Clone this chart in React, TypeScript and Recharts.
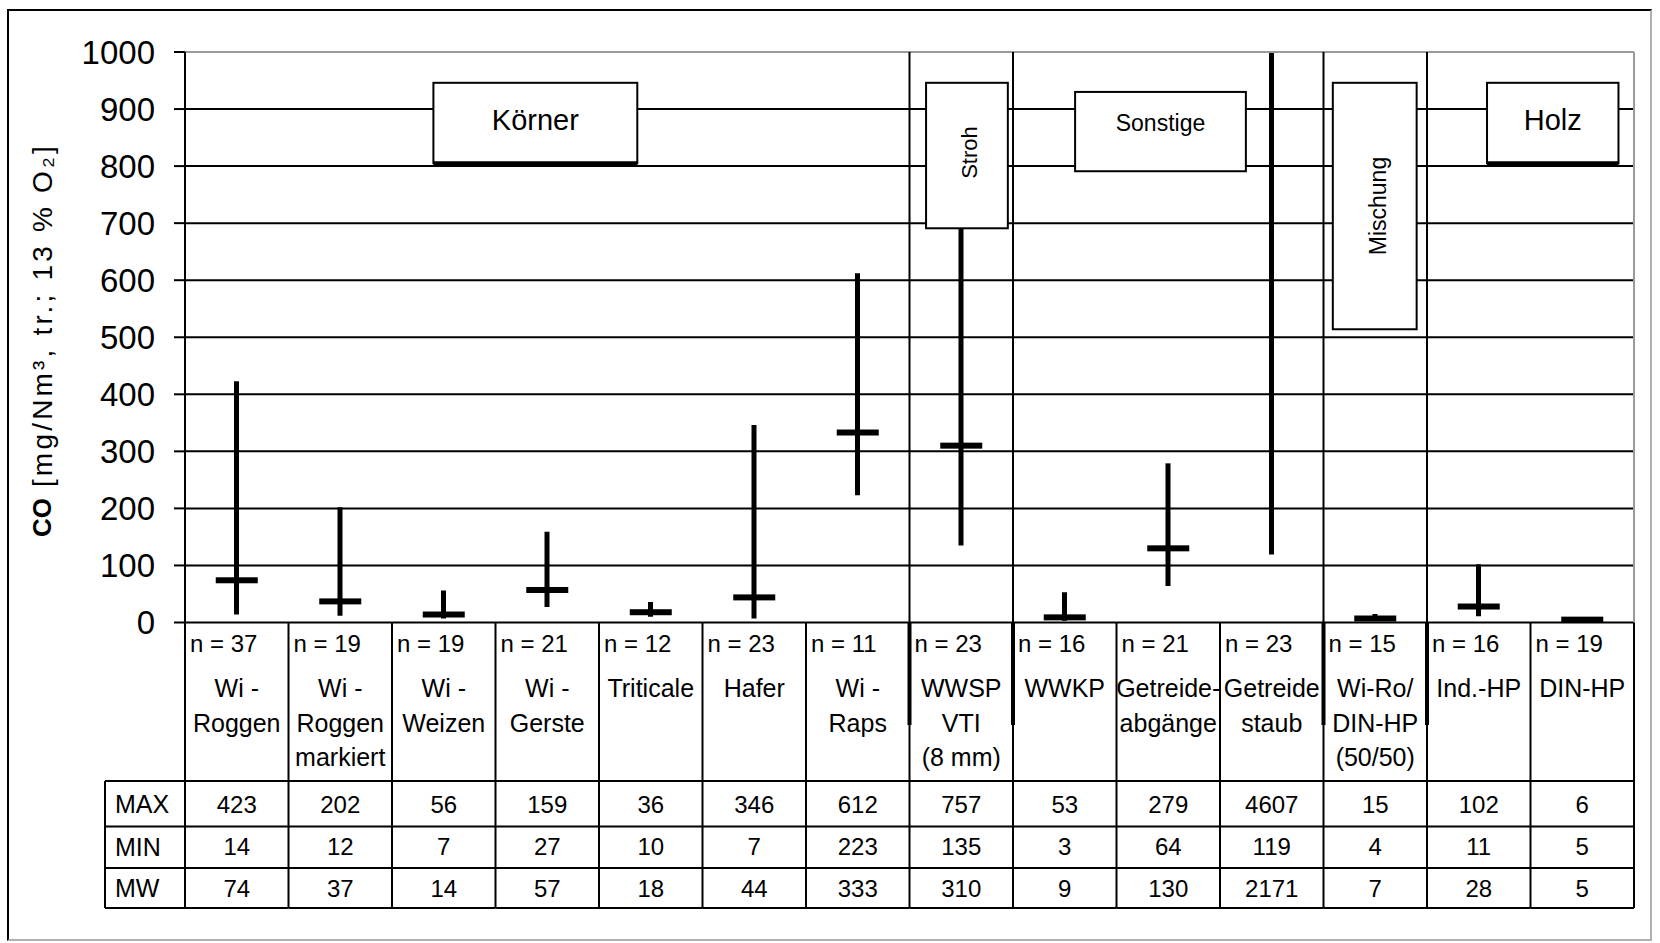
import {
  ComposedChart, Bar, Scatter, XAxis, YAxis, CartesianGrid, ReferenceArea, ReferenceLine
} from "recharts"

// column labels (line breaks as in the table)
const categories = [
  ["Wi -", "Roggen"],
  ["Wi -", "Roggen", "markiert"],
  ["Wi -", "Weizen"],
  ["Wi -", "Gerste"],
  ["Triticale"],
  ["Hafer"],
  ["Wi -", "Raps"],
  ["WWSP", "VTI", "(8 mm)"],
  ["WWKP"],
  ["Getreide-", "abgänge"],
  ["Getreide", "staub"],
  ["Wi-Ro/", "DIN-HP", "(50/50)"],
  ["Ind.-HP"],
  ["DIN-HP"],
]
const sampleSizes = [37, 19, 19, 21, 12, 23, 11, 23, 16, 21, 23, 15, 16, 19]
const maxValues = [423, 202, 56, 159, 36, 346, 612, 757, 53, 279, 4607, 15, 102, 6]
const minValues = [14, 12, 7, 27, 10, 7, 223, 135, 3, 64, 119, 4, 11, 5]
const meanValues = [74, 37, 14, 57, 18, 44, 333, 310, 9, 130, 2171, 7, 28, 5]
const rowLabels = ["MAX", "MIN", "MW"]
const yTicks = [0, 100, 200, 300, 400, 500, 600, 700, 800, 900, 1000]
const groupNames = ["Körner", "Stroh", "Sonstige", "Mischung", "Holz"]
const groupStarts = [7, 8, 11, 12]

const FONT = "'Liberation Sans', Arial, sans-serif"
const W = 1660
const H = 943
const PLOT_L = 185
const PLOT_R = 1634
const PLOT_T = 52
const PLOT_B = 622.5
const COL_W = (PLOT_R - PLOT_L) / categories.length
const HEAD_B = 781
const ROW1_B = 826.5
const ROW2_B = 868
const TABLE_B = 908
const LABEL_L = 105

const rows = categories.map((c, i) => ({
  name: c.join(" "),
  range: [minValues[i], maxValues[i]],
  mw: meanValues[i],
}))

// annotation boxes: x in column units (fractional), y in data values
const boxes = [
  { x1: 2.4, x2: 4.37, y1: 805, y2: 946, vertical: false, size: 29, dy: -3, thick: true },
  { x1: 7.16, x2: 7.95, y1: 691, y2: 946, vertical: true, size: 22, dy: -3, thick: false },
  { x1: 8.6, x2: 10.25, y1: 791, y2: 930, vertical: false, size: 23, dy: -9, thick: false },
  { x1: 11.09, x2: 11.9, y1: 514, y2: 946, vertical: true, size: 23, dy: 0, thick: false },
  { x1: 12.58, x2: 13.85, y1: 805, y2: 946, vertical: false, size: 29, dy: -3, thick: true },
]

function TableTick(props: any) {
  const { x, payload } = props
  const i: number = props.index ?? payload.index
  const left = x - COL_W / 2
  const right = x + COL_W / 2
  const isGroupStart = groupStarts.includes(i)
  const vals = [maxValues[i], minValues[i], meanValues[i]]
  const rowY = [804, 846.5, 888]
  return (
    <g fontFamily={FONT} fontSize={25}>
      <line x1={left} x2={left} y1={isGroupStart ? PLOT_T : PLOT_B} y2={TABLE_B} stroke="#000" strokeWidth={2} />
      {isGroupStart && (
        <line x1={left} x2={left} y1={PLOT_B} y2={725} stroke="#000" strokeWidth={4} />
      )}
      {i === categories.length - 1 && (
        <line x1={right} x2={right} y1={PLOT_B} y2={TABLE_B} stroke="#000" strokeWidth={2} />
      )}
      {[HEAD_B, ROW1_B, ROW2_B, TABLE_B].map(yy => (
        <line key={yy} x1={left} x2={right} y1={yy} y2={yy} stroke="#000" strokeWidth={2} />
      ))}
      <text x={left + 5} y={643} fill="#000" dominantBaseline="central" fontSize={24}>
        n = {sampleSizes[i]}
      </text>
      {categories[i].map((t, k) => (
        <text key={k} x={x} y={688 + k * 34.5} fill="#000" textAnchor="middle" dominantBaseline="central">
          {t}
        </text>
      ))}
      {vals.map((v, k) => (
        <text key={k} x={x} y={rowY[k]} fill="#000" textAnchor="middle" dominantBaseline="central" fontSize={24}>
          {v}
        </text>
      ))}
      {i === 0 && (
        <g>
          <line x1={LABEL_L} x2={LABEL_L} y1={HEAD_B} y2={TABLE_B} stroke="#000" strokeWidth={2} />
          {[HEAD_B, ROW1_B, ROW2_B, TABLE_B].map(yy => (
            <line key={yy} x1={LABEL_L} x2={left} y1={yy} y2={yy} stroke="#000" strokeWidth={2} />
          ))}
          {rowLabels.map((t, k) => (
            <text key={t} x={LABEL_L + 10} y={rowY[k]} fill="#000" dominantBaseline="central">
              {t}
            </text>
          ))}
        </g>
      )}
    </g>
  )
}

const YTitle = () => (
  <text transform="translate(42,340) rotate(-90)" textAnchor="middle" dominantBaseline="central"
    fontFamily={FONT} fill="#000">
    <tspan fontWeight="bold" fontSize={26}>CO</tspan>
    <tspan fontSize={28} letterSpacing={3.2}> [mg/Nm³, tr.; 13 % O₂]</tspan>
  </text>
)

const MeanTick = (p: any) => (
  <rect x={p.cx - 21} y={p.cy - 3} width={42} height={6} fill="#000" />
)

// p.x / p.width cover the whole bands of the first and last column; trim to fractions
function GroupBox(p: any, b: typeof boxes[number], label: string) {
  const left = p.x + (b.x1 - Math.floor(b.x1)) * COL_W
  const right = p.x + p.width - (1 - (b.x2 - Math.floor(b.x2))) * COL_W
  const { y, height } = p
  const width = right - left
  const cx = left + width / 2
  const cy = y + height / 2
  return (
    <g>
      <rect x={left} y={y} width={width} height={height} fill="#fff" stroke="#000" strokeWidth={2} />
      {b.thick && <line x1={left} x2={right} y1={y + height} y2={y + height} stroke="#000" strokeWidth={4} />}
      {b.vertical ? (
        <text transform={`translate(${cx + 3},${cy + b.dy}) rotate(-90)`} textAnchor="middle"
          dominantBaseline="central" fontFamily={FONT} fontSize={b.size} fill="#000">{label}</text>
      ) : (
        <text x={cx} y={cy + b.dy} textAnchor="middle" dominantBaseline="central"
          fontFamily={FONT} fontSize={b.size} fill="#000">{label}</text>
      )}
    </g>
  )
}

export default function App() {
  return (
    <div style={{ position: "absolute", left: 0, top: 0, width: W, height: H, background: "#fff" }}>
      <div style={{
        position: "absolute", left: 7, top: 9, width: 1641, height: 928,
        borderLeft: "2px solid #000", borderTop: "2px solid #000",
        borderRight: "2px solid #b0b0b0", borderBottom: "2px solid #b0b0b0",
      }} />
      <div style={{ position: "absolute", left: 0, top: 0 }}>
        <ComposedChart width={W} height={H} data={rows}
          margin={{ top: PLOT_T, right: W - PLOT_R, bottom: H - PLOT_B - (TABLE_B - PLOT_B), left: 0 }}>
          <CartesianGrid vertical={false} stroke="#000" strokeWidth={2} />
          <XAxis dataKey="name" height={TABLE_B - PLOT_B} axisLine={false} tickLine={false}
            interval={0} tick={(p: any) => <TableTick {...p} />} />
          <YAxis width={PLOT_L} domain={[0, 1000]} ticks={yTicks} allowDataOverflow
            axisLine={{ stroke: "#000", strokeWidth: 2 }} tickLine={{ stroke: "#000", strokeWidth: 2 }}
            tickSize={11} tickMargin={19}
            tick={{ fill: "#000", fontSize: 33, fontFamily: FONT }}
            label={<YTitle />} />
          <ReferenceLine y={1000} stroke="#9a9a9a" strokeWidth={2} />
          <ReferenceLine x={rows[rows.length - 1].name} stroke="#9a9a9a" strokeWidth={2}
            position="end" />
          <Bar dataKey="range" barSize={5} fill="#000" isAnimationActive={false} />
          <Scatter dataKey="mw" shape={MeanTick} isAnimationActive={false} />
          {boxes.map((b, k) => (
            <ReferenceArea key={k} x1={rows[Math.floor(b.x1)].name} x2={rows[Math.floor(b.x2)].name}
              y1={b.y1} y2={b.y2} zIndex={3000} fillOpacity={1}
              shape={(p: any) => GroupBox(p, b, groupNames[k])} />
          ))}
        </ComposedChart>
      </div>
    </div>
  )
}
